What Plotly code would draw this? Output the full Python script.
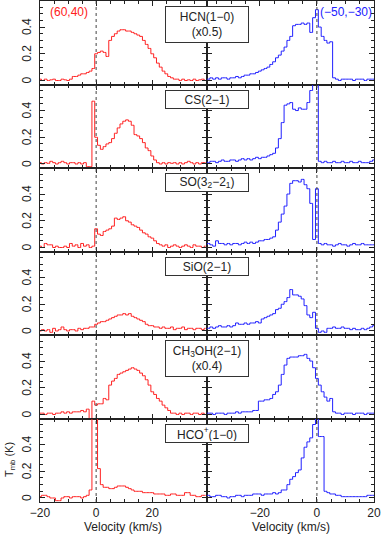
import numpy as np
import plotly.graph_objects as go
from plotly.subplots import make_subplots

# channel centres in km/s (1 km/s channels)
VEL_RED = np.arange(-20, 40)
VEL_BLUE = np.arange(-39, 21)

LABELS = ["HCN(1−0)<br>(x0.5)", "CS(2−1)", "SO(3<sub>2</sub>−2<sub>1</sub>)",
          "SiO(2−1)", "CH<sub>3</sub>OH(2−1)<br>(x0.4)", "HCO<sup>+</sup>(1−0)"]
Y_TICKS = [0, 0.2, 0.4]

HCN_RED = [0.01, 0.0, 0.01, 0.0, 0.005, 0.01, 0.0, 0.0, 0.01, 0.005,
           0.0, 0.01, 0.03, 0.03, 0.04, 0.05, 0.05, 0.06, 0.07, 0.09,
           0.20, 0.21, 0.22, 0.21, 0.18, 0.30, 0.33, 0.35, 0.37, 0.38,
           0.38, 0.37, 0.37, 0.36, 0.35, 0.34, 0.33, 0.30, 0.27, 0.24,
           0.20, 0.17, 0.13, 0.10, 0.07, 0.05, 0.03, 0.02, 0.01, 0.01,
           0.0, 0.01, 0.0, 0.005, 0.0, 0.01, 0.0, 0.005, 0.01, 0.0]
HCN_BLUE = [0.01, 0.01, 0.02, 0.01, 0.02, 0.01, 0.02, 0.02, 0.01, 0.02,
            0.02, 0.03, 0.02, 0.03, 0.04, 0.04, 0.05, 0.05, 0.06, 0.07,
            0.08, 0.09, 0.10, 0.12, 0.14, 0.17, 0.19, 0.22, 0.25, 0.30,
            0.33, 0.41, 0.42, 0.42, 0.43, 0.42, 0.43, 0.36, 0.47, 0.53,
            0.40, 0.33, 0.30, 0.28, 0.29, 0.02, 0.01, 0.0, 0.01, 0.01,
            0.01, 0.01, 0.0, 0.01, 0.01, 0.01, 0.0, 0.01, 0.01, 0.01]

CS_RED = [0.01, 0.0, 0.01, 0.005, 0.02, 0.01, 0.0, 0.01, 0.02, 0.01,
          0.0, 0.01, 0.01, 0.0, 0.01, 0.0, 0.01, -0.02, -0.02, 0.47,
          0.20, 0.14, 0.11, 0.13, 0.15, 0.16, 0.19, 0.23, 0.27, 0.30,
          0.32, 0.33, 0.32, 0.29, 0.22, 0.21, 0.19, 0.16, 0.12, 0.10,
          0.06, 0.03, 0.01, 0.0, 0.01, 0.0, 0.01, 0.005, 0.01, 0.0,
          0.01, 0.0, 0.01, 0.02, 0.01, 0.0, 0.01, 0.0, 0.01, 0.01]
CS_BLUE = [0.02, 0.01, 0.02, 0.02, 0.01, 0.02, 0.03, 0.02, 0.02, 0.03,
           0.03, 0.02, 0.03, 0.04, 0.03, 0.04, 0.03, 0.04, 0.05, 0.04,
           0.05, 0.05, 0.06, 0.07, 0.08, 0.12, 0.19, 0.31, 0.44, 0.45,
           0.46, 0.41, 0.40, 0.42, 0.41, 0.41, 0.46, 0.55, 0.70, 0.70,
           0.02, 0.01, 0.02, 0.01, 0.01, 0.02, 0.01, 0.01, 0.02, 0.01,
           0.01, 0.02, 0.01, 0.01, 0.02, 0.01, 0.01, 0.01, 0.02, 0.03]

SO_RED = [0.01, 0.0, 0.03, 0.02, 0.02, 0.0, 0.01, 0.0, 0.0, 0.01,
          0.0, 0.03, 0.01, 0.02, 0.0, 0.03, 0.01, 0.02, 0.0, 0.01,
          0.14, 0.10, 0.09, 0.12, 0.13, 0.14, 0.16, 0.22, 0.21, 0.22,
          0.23, 0.20, 0.19, 0.17, 0.16, 0.15, 0.13, 0.11, 0.10, 0.08,
          0.07, 0.05, 0.03, 0.02, 0.01, 0.02, 0.0, 0.01, 0.02, 0.01,
          0.0, 0.01, 0.02, 0.01, 0.0, 0.02, 0.01, 0.01, 0.0, 0.01]
SO_BLUE = [0.02, 0.03, 0.02, 0.01, 0.05, 0.03, 0.03, 0.02, 0.03, 0.02,
           0.03, 0.03, 0.02, 0.03, 0.04, 0.03, 0.04, 0.03, 0.04, 0.05,
           0.05, 0.06, 0.06, 0.07, 0.08, 0.13, 0.19, 0.25, 0.31, 0.40,
           0.48, 0.50, 0.50, 0.49, 0.51, 0.47, 0.44, 0.33, 0.06, 0.44,
           0.03, 0.02, 0.03, 0.02, 0.02, 0.01, 0.02, 0.03, 0.02, 0.02,
           0.01, 0.02, 0.03, 0.02, 0.02, 0.03, 0.02, 0.02, 0.02, 0.02]

SIO_RED = [0.0, 0.01, 0.0, 0.01, -0.01, 0.02, 0.0, 0.01, 0.03, 0.01,
           0.0, 0.01, 0.01, 0.0, 0.02, 0.01, 0.02, 0.02, 0.03, 0.03,
           0.05, 0.06, 0.07, 0.07, 0.08, 0.09, 0.10, 0.11, 0.12, 0.12,
           0.13, 0.12, 0.13, 0.11, 0.10, 0.09, 0.08, 0.07, 0.05, 0.04,
           0.04, 0.03, 0.03, 0.02, 0.03, 0.02, 0.02, 0.03, 0.01, 0.02,
           0.02, 0.03, 0.01, 0.02, 0.02, 0.01, 0.02, 0.02, 0.01, 0.02]
SIO_BLUE = [0.02, 0.02, 0.03, 0.02, 0.03, 0.04, 0.03, 0.03, 0.04, 0.03,
            0.04, 0.06, 0.05, 0.05, 0.06, 0.05, 0.06, 0.06, 0.07, 0.06,
            0.09, 0.10, 0.11, 0.12, 0.13, 0.16, 0.17, 0.20, 0.22, 0.25,
            0.31, 0.27, 0.27, 0.26, 0.24, 0.19, 0.12, 0.10, 0.14, 0.02,
            -0.01, 0.0, -0.01, 0.02, 0.02, 0.03, 0.02, 0.02, 0.03, 0.02,
            0.02, 0.01, 0.02, 0.01, 0.01, 0.02, 0.01, 0.02, 0.03, 0.04]

CH3OH_RED = [0.01, 0.01, 0.0, 0.01, 0.01, 0.0, 0.01, 0.01, 0.02, 0.01,
             0.02, 0.01, 0.02, 0.02, 0.02, 0.03, 0.02, 0.04, -0.03, 0.10,
             0.07, 0.08, 0.08, 0.12, 0.11, 0.22, 0.25, 0.27, 0.30, 0.31,
             0.32, 0.33, 0.34, 0.35, 0.34, 0.33, 0.31, 0.29, 0.26, 0.22,
             0.17, 0.15, 0.12, 0.10, 0.07, 0.05, 0.03, 0.01, 0.01, 0.0,
             0.01, 0.0, 0.01, 0.01, 0.0, 0.01, 0.01, 0.0, 0.01, 0.0]
CH3OH_BLUE = [0.01, 0.01, 0.01, 0.0, 0.01, 0.01, 0.01, 0.0, 0.01, 0.01,
              0.01, 0.02, 0.01, 0.02, 0.02, 0.02, 0.02, 0.03, 0.03, 0.10,
              0.10, 0.11, 0.11, 0.12, 0.15, 0.17, 0.22, 0.30, 0.37, 0.42,
              0.43, 0.43, 0.43, 0.44, 0.44, 0.45, 0.42, 0.40, 0.35, 0.27,
              0.22, 0.17, 0.13, 0.10, 0.12, 0.02, 0.01, 0.01, 0.0, 0.01,
              0.01, 0.01, 0.0, 0.01, 0.01, 0.01, 0.0, 0.01, 0.01, 0.01]

HCOP_RED = [0.01, 0.02, 0.02, 0.01, 0.0, 0.0, -0.02, -0.02, 0.0, 0.01,
            0.01, 0.0, 0.01, 0.01, 0.01, 0.0, 0.01, 0.02, 0.06, 0.70,
            0.70, 0.22, 0.10, 0.08, 0.08, 0.07, 0.07, 0.08, 0.09, 0.09,
            0.09, 0.08, 0.07, 0.06, 0.05, 0.05, 0.05, 0.04, 0.04, 0.04,
            0.04, 0.03, 0.03, 0.03, 0.03, 0.02, 0.02, 0.03, 0.03, 0.02,
            0.02, 0.02, 0.04, 0.04, 0.02, 0.02, 0.01, 0.01, 0.02, 0.02]
HCOP_BLUE = [0.02, 0.02, 0.01, 0.01, 0.02, 0.02, 0.01, 0.01, 0.0, 0.01,
             0.01, 0.02, 0.02, 0.01, 0.02, 0.02, 0.02, 0.03, 0.03, 0.03,
             0.02, 0.03, 0.03, 0.03, 0.04, 0.03, 0.04, 0.06, 0.06, 0.10,
             0.14, 0.16, 0.19, 0.21, 0.30, 0.38, 0.42, 0.45, 0.55, 0.70,
             0.46, 0.46, 0.05, 0.04, 0.03, 0.03, 0.02, 0.02, 0.01, 0.01,
             0.01, 0.01, 0.01, 0.01, 0.01, 0.01, 0.01, 0.02, 0.02, 0.02]

RED_SPECTRA = [HCN_RED, CS_RED, SO_RED, SIO_RED, CH3OH_RED, HCOP_RED]
BLUE_SPECTRA = [HCN_BLUE, CS_BLUE, SO_BLUE, SIO_BLUE, CH3OH_BLUE, HCOP_BLUE]

W, H = 381, 534
ML, MR, MT, MB = 40, 6.5, 1, 32
PW, PH = W - ML - MR, H - MT - MB
AX = "#222222"
FONT = "Liberation Sans, Arial, sans-serif"


def px(x):
    return (x - ML) / PW


def py(y):
    return 1 - (y - MT) / PH


fig = make_subplots(rows=6, cols=2, horizontal_spacing=0, vertical_spacing=0)

for i in range(6):
    fig.add_trace(go.Scatter(x=VEL_RED, y=RED_SPECTRA[i], mode="lines",
                             line=dict(color="#ff2020", width=1, shape="hvh")),
                  row=i + 1, col=1)
    fig.add_trace(go.Scatter(x=VEL_BLUE, y=BLUE_SPECTRA[i], mode="lines",
                             line=dict(color="#2020ff", width=1, shape="hvh")),
                  row=i + 1, col=2)

common = dict(showgrid=False, zeroline=False, showline=True, linecolor=AX,
              linewidth=1, mirror="ticks", ticks="inside", ticklen=5,
              tickcolor=AX, tickfont=dict(size=12, color="#222"))
fig.update_xaxes(**common, dtick=20, tick0=0,
                 minor=dict(ticks="inside", ticklen=3, tickcolor=AX, dtick=5))
fig.update_xaxes(range=[-20, 39.5], col=1)
fig.update_xaxes(range=[-38.5, 20], col=2)
for i in range(1, 6):
    fig.update_xaxes(showticklabels=False, row=i)
# y tick labels are drawn below as rotated annotations tied to each y axis
fig.update_yaxes(**common, range=[-0.03, 0.595], dtick=0.2, tick0=0,
                 showticklabels=False,
                 minor=dict(ticks="inside", ticklen=3, tickcolor=AX, dtick=0.05))

# dotted v=0 lines through every panel
for xr in ["x", "x2"]:
    fig.add_shape(type="line", xref=xr, yref="paper", x0=0, x1=0, y0=0, y1=1,
                  line=dict(color="#444", width=1, dash="dot"))

annots = []
row_top = [MT + PH / 6 * i for i in range(6)]
for i, lab in enumerate(LABELS):
    two = "<br>" in lab
    annots.append(dict(xref="paper", yref="paper", x=px(207.3), y=py(row_top[i] + 5),
                       xanchor="center", yanchor="top", text=lab, showarrow=False,
                       width=80, height=33 if two else 15, bgcolor="white",
                       bordercolor="#333", borderwidth=1, borderpad=1,
                       font=dict(size=12, color="#222", family=FONT)))
    yref = "y" if i == 0 else f"y{2 * i + 1}"
    for t in Y_TICKS:
        annots.append(dict(xref="paper", yref=yref, x=px(27), y=t,
                           xanchor="center", yanchor="middle", text=f"{t:g}",
                           textangle=-90, showarrow=False,
                           font=dict(size=12, color="#222", family=FONT)))

annots += [
    dict(xref="paper", yref="paper", x=px(48), y=py(12), xanchor="left", yanchor="middle",
         text="(60,40)", showarrow=False, font=dict(size=12, color="#ff2020", family=FONT)),
    dict(xref="paper", yref="paper", x=px(375), y=py(12), xanchor="right", yanchor="middle",
         text="(−50,−30)", showarrow=False, font=dict(size=12, color="#2020ff", family=FONT)),
    dict(xref="paper", yref="paper", x=px(123.5), y=py(527), xanchor="center", yanchor="middle",
         text="Velocity (km/s)", showarrow=False, font=dict(size=12, color="#222", family=FONT)),
    dict(xref="paper", yref="paper", x=px(291), y=py(527), xanchor="center", yanchor="middle",
         text="Velocity (km/s)", showarrow=False, font=dict(size=12, color="#222", family=FONT)),
    dict(xref="paper", yref="paper", x=px(10), y=py(460), xanchor="center", yanchor="middle",
         text="T<sub>mb</sub> (K)", textangle=-90, showarrow=False,
         font=dict(size=11, color="#222", family=FONT)),
]

fig.update_layout(width=W, height=H, showlegend=False, annotations=annots,
                  margin=dict(l=ML, r=MR, t=MT, b=MB),
                  plot_bgcolor="white", paper_bgcolor="white",
                  font=dict(family=FONT, size=12, color="#222"))

# the page body has a default 8px margin; remove it so the figure fills the window
fig.write_html("out.html", config={"displayModeBar": False},
               post_script="document.body.style.margin='0';document.body.style.overflow='hidden';")
